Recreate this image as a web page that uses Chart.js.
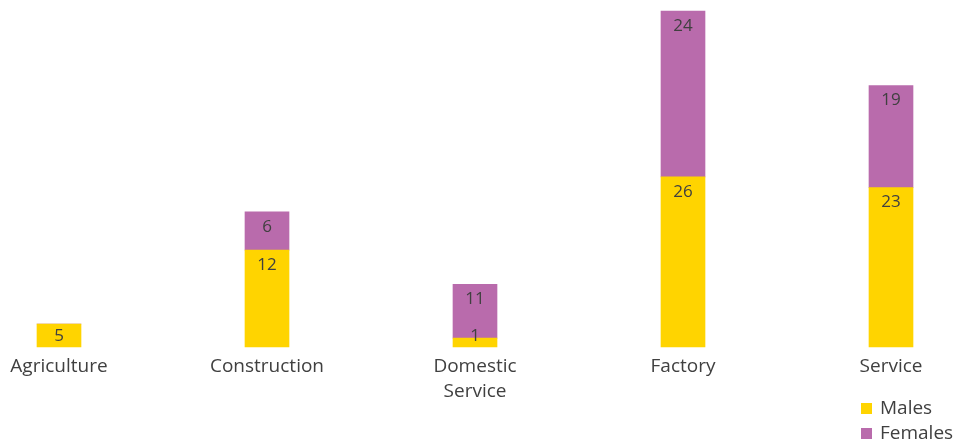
<!DOCTYPE html>
<html>
<head>
<meta charset="utf-8">
<script src="https://cdn.jsdelivr.net/npm/chart.js@4"></script>
<style>
  html, body { margin: 0; padding: 0; background: #fff; }
  #wrap { width: 956px; height: 440px; overflow: hidden; }
</style>
</head>
<body>
<div id="wrap"><canvas id="jobs" width="956" height="440"></canvas></div>
<script>
// categories
var categories = [['Agriculture'], ['Construction'], ['Domestic', 'Service'], ['Factory'], ['Service']]

// bar heights as drawn in the picture (not quite in proportion to the printed numbers)
var malesHeight = [3.4, 14.4, 1.3, 25.3, 23.7]
var femalesHeight = [0, 5.7, 8.0, 24.7, 15.2]

// numbers printed on the bars
var malesLabels = [5, 12, 1, 26, 23]
var femalesLabels = [null, 6, 11, 24, 19]

var seriesNames = ['Males', 'Females']
var yellow = '#FFD400'
var purple = '#B96BAC'
var textColor = '#404040'
var fontFamily = '"Open Sans", "Noto Sans", sans-serif'

var barLabels = {
  id: 'barLabels',
  afterDatasetsDraw: function(chart) {
    var ctx = chart.ctx
    var labelSets = [malesLabels, femalesLabels]
    ctx.save()
    ctx.font = '17px ' + fontFamily
    ctx.fillStyle = textColor
    ctx.textAlign = 'center'
    ctx.textBaseline = 'middle'
    chart.data.datasets.forEach(function(ds, i) {
      var meta = chart.getDatasetMeta(i)
      meta.data.forEach(function(bar, j) {
        var txt = labelSets[i][j]
        if (txt == null) return
        var y = Math.min(bar.y + 15, bar.base - 11)
        ctx.fillText(String(txt), bar.x, y)
      })
    })
    ctx.restore()
  }
}

var sideLegend = {
  id: 'sideLegend',
  afterDraw: function(chart) {
    var ctx = chart.ctx
    var colors = [yellow, purple]
    ctx.save()
    ctx.font = '19px ' + fontFamily
    ctx.textBaseline = 'middle'
    ctx.textAlign = 'left'
    for (var i = 0; i < seriesNames.length; i++) {
      var y = 409 + i * 25
      ctx.fillStyle = colors[i]
      ctx.fillRect(861, y - 6, 11, 11)
      ctx.fillStyle = textColor
      ctx.fillText(seriesNames[i], 880, y)
    }
    ctx.restore()
  }
}

var ctx = document.getElementById('jobs').getContext('2d')
new Chart(ctx, {
  type: 'bar',
  data: {
    labels: categories,
    datasets: [{
      label: seriesNames[0],
      data: malesHeight,
      backgroundColor: yellow,
      barThickness: 44,
      clip: false
    }, {
      label: seriesNames[1],
      data: femalesHeight,
      backgroundColor: purple,
      barThickness: 44,
      clip: false
    }]
  },
  options: {
    responsive: false,
    animation: false,
    events: [],
    layout: {
      padding: { left: 59, right: 65, top: 11, bottom: 29 }
    },
    plugins: {
      legend: { display: false },
      tooltip: { enabled: false }
    },
    scales: {
      x: {
        stacked: true,
        offset: false,
        grid: { display: false, drawTicks: false },
        border: { display: false },
        ticks: {
          padding: 7,
          color: textColor,
          maxRotation: 0,
          autoSkip: false,
          font: { family: fontFamily, size: 19, lineHeight: 1.32 }
        }
      },
      y: {
        stacked: true,
        display: false,
        min: 0,
        max: 50
      }
    }
  },
  plugins: [barLabels, sideLegend]
})
</script>
</body>
</html>
